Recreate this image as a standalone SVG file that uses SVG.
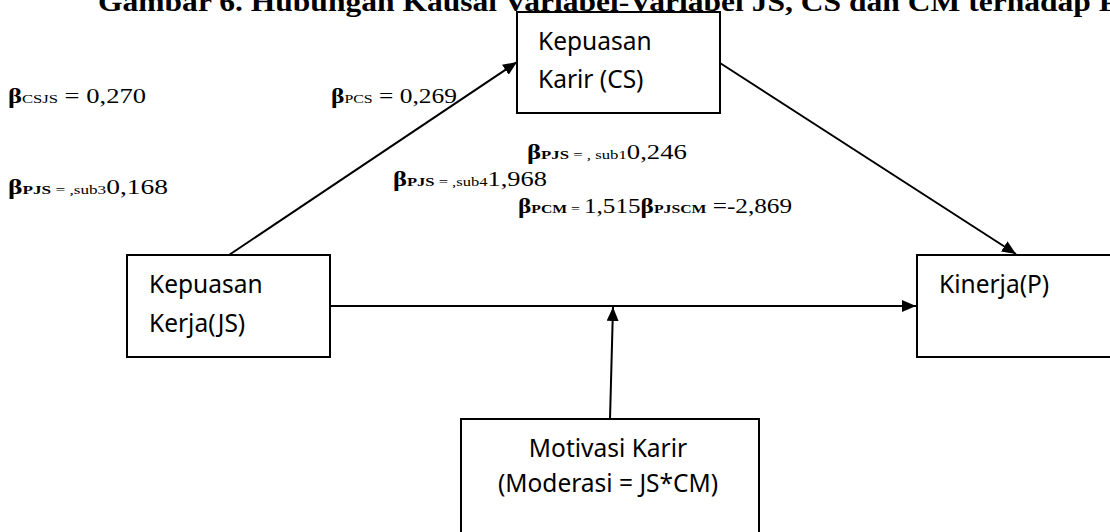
<svg xmlns="http://www.w3.org/2000/svg" width="1110" height="532" viewBox="0 0 1110 532">
  <style>
    .box { fill: #ffffff; stroke: #000000; stroke-width: 2; }
    .node { font-family: "Noto Sans", "Open Sans", sans-serif; font-size: 24.5px; fill: #000000; }
    .lbl { font-family: "Liberation Serif", "Times New Roman", serif; font-size: 20px; fill: #000000; }
    .title { font-family: "Liberation Serif", "Times New Roman", serif; font-size: 27px; font-weight: bold; fill: #000000; }
    .b { font-weight: bold; }
    .s { font-size: 12.5px; }
    .sb { font-size: 12.5px; font-weight: bold; }
    .edge { stroke: #000000; stroke-width: 2; fill: none; marker-end: url(#arrow); }
  </style>
  <defs>
    <marker id="arrow" viewBox="0 0 14 12" refX="14" refY="6" markerWidth="14" markerHeight="12" markerUnits="userSpaceOnUse" orient="auto">
      <path d="M0,0 L14,6 L0,12 Z" fill="#000000"/>
    </marker>
  </defs>
  <rect width="1110" height="532" fill="#ffffff"/>

  <!-- caption, partly above the top edge -->
  <text class="title" x="98" y="11" textLength="1020" lengthAdjust="spacingAndGlyphs">Gambar 6. Hubungan Kausal Variabel-Variabel JS, CS dan CM terhadap P</text>

  <!-- connectors -->
  <g id="connectors">
    <line class="edge" x1="229" y1="255" x2="517" y2="62"/>
    <line class="edge" x1="720" y1="63" x2="1016" y2="254"/>
    <line class="edge" x1="330" y1="306" x2="916" y2="306"/>
    <line class="edge" x1="610" y1="419" x2="613" y2="307"/>
  </g>

  <!-- nodes -->
  <g id="node-cs">
    <rect class="box" x="517" y="12" width="203" height="101"/>
    <text class="node" x="538" y="50">Kepuasan</text>
    <text class="node" x="538" y="88">Karir (CS)</text>
  </g>
  <g id="node-js">
    <rect class="box" x="127" y="255" width="203" height="102"/>
    <text class="node" x="149" y="293">Kepuasan</text>
    <text class="node" x="149" y="332">Kerja(JS)</text>
  </g>
  <g id="node-p">
    <rect class="box" x="917" y="255" width="210" height="102"/>
    <text class="node" x="939" y="293">Kinerja(P)</text>
  </g>
  <g id="node-cm">
    <rect class="box" x="461" y="419" width="298" height="130"/>
    <text class="node" x="608" y="457" text-anchor="middle">Motivasi Karir</text>
    <text class="node" x="608" y="492" text-anchor="middle">(Moderasi = JS*CM)</text>
  </g>

  <!-- coefficient labels -->
  <g id="labels" xml:space="preserve">
    <text class="lbl" x="8" y="103" textLength="138" lengthAdjust="spacingAndGlyphs"><tspan class="b">β</tspan><tspan class="s">CSJS</tspan> =  0,270</text>
    <text class="lbl" x="331" y="103" textLength="126" lengthAdjust="spacingAndGlyphs"><tspan class="b">β</tspan><tspan class="s">PCS</tspan> =  0,269</text>
    <text class="lbl" x="8" y="194" textLength="160" lengthAdjust="spacingAndGlyphs"><tspan class="b">β</tspan><tspan class="sb">PJS</tspan><tspan class="s"> =  ,sub3</tspan>0,168</text>
    <text class="lbl" x="527" y="159" textLength="160" lengthAdjust="spacingAndGlyphs"><tspan class="b">β</tspan><tspan class="sb">PJS</tspan><tspan class="s"> = , sub1</tspan>0,246</text>
    <text class="lbl" x="393" y="186" textLength="154" lengthAdjust="spacingAndGlyphs"><tspan class="b">β</tspan><tspan class="sb">PJS</tspan><tspan class="s"> = ,sub4</tspan>1,968</text>
    <text class="lbl" x="518" y="213" textLength="274" lengthAdjust="spacingAndGlyphs"><tspan class="b">β</tspan><tspan class="sb">PCM</tspan><tspan class="s"> = </tspan>1,515<tspan class="b">β</tspan><tspan class="sb">PJSCM</tspan> =-2,869</text>
  </g>
</svg>
